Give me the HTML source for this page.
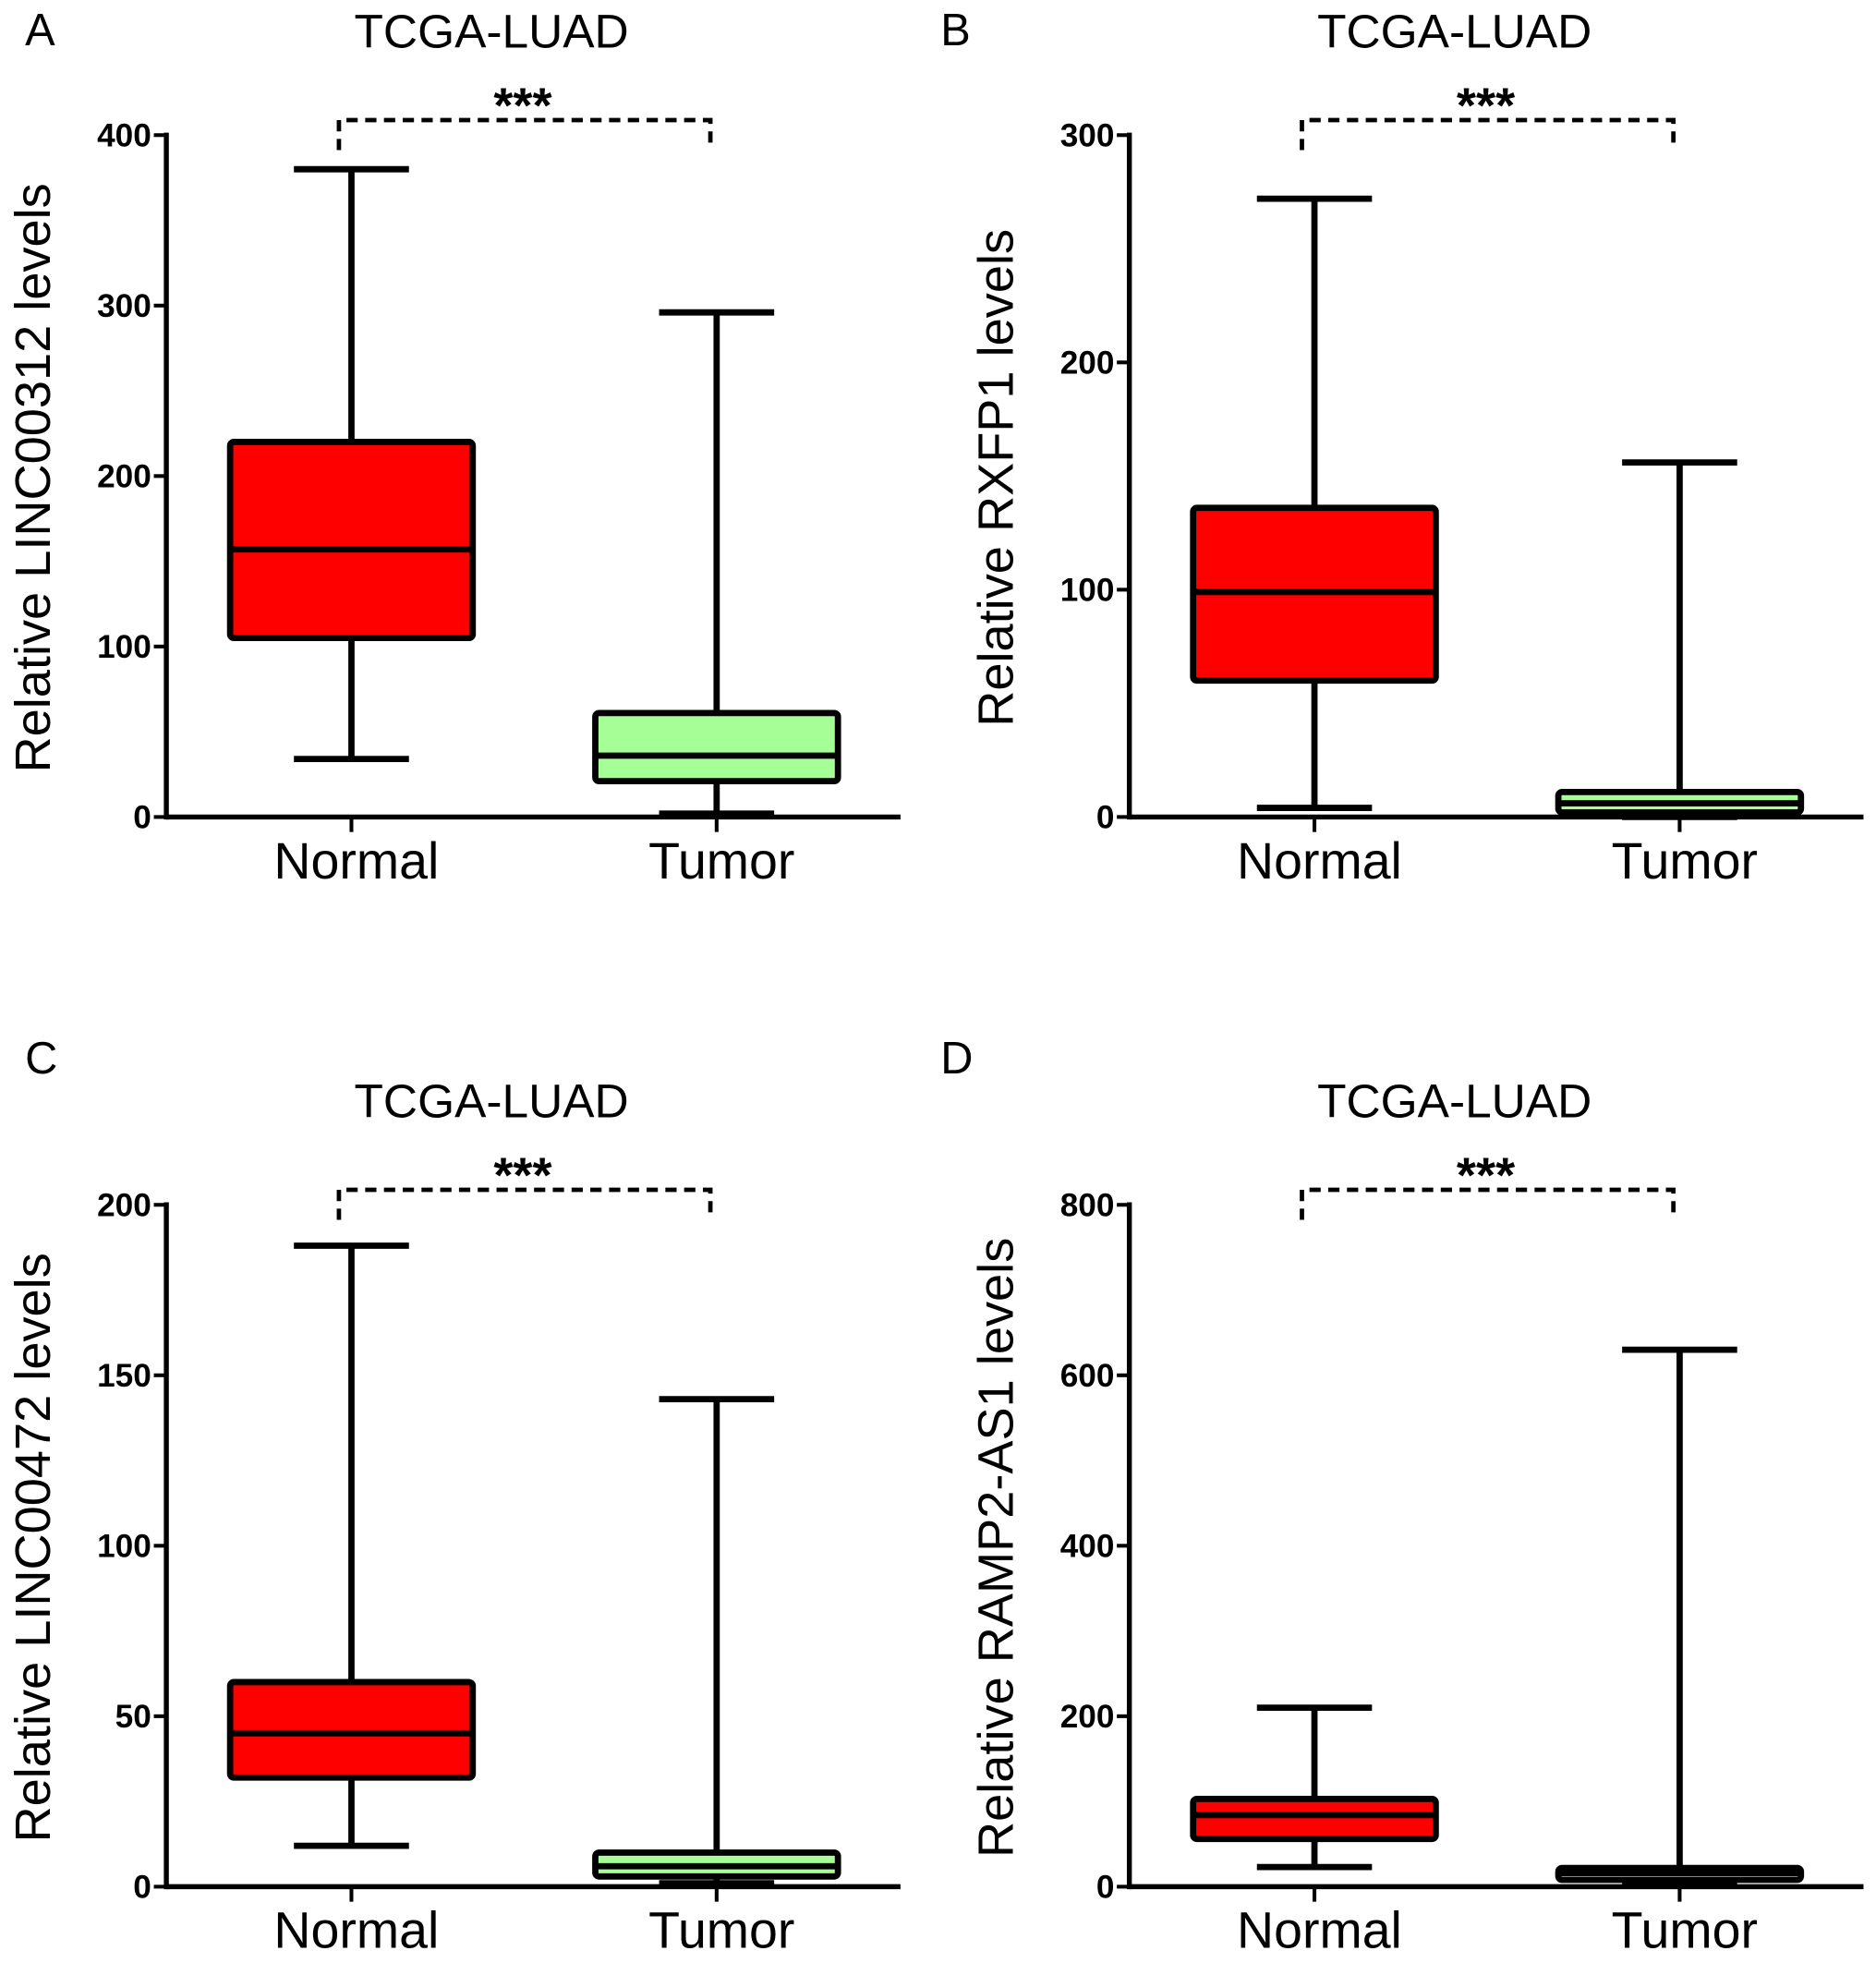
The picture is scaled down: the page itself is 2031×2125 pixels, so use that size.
<!DOCTYPE html>
<html><head><meta charset="utf-8"><style>
html,body{margin:0;padding:0;background:#fff;}
svg{display:block;}
text{font-family:"Liberation Sans",Arial,sans-serif;fill:#000;}
</style></head><body>
<svg id="fig" width="2031" height="2125" viewBox="0 0 1500 1569" preserveAspectRatio="none" xmlns="http://www.w3.org/2000/svg"></svg>
<script>
const categories = ["Normal","Tumor"];
const panelLetters = ["A","B","C","D"];
const yLabels = ["Relative LINC00312 levels","Relative RXFP1 levels","Relative LINC00472 levels","Relative RAMP2-AS1 levels"];
const yMax = [400,300,200,800];
const yTicksA = [0,100,200,300,400];
const yTicksB = [0,100,200,300];
const yTicksC = [0,50,100,150,200];
const yTicksD = [0,200,400,600,800];
// [min, q1, median, q3, max] per category
const normalA = [34,105,157,220,380];
const tumorA  = [2,21,36,61,296];
const normalB = [4,60,99,136,272];
const tumorB  = [0,2,6,11,156];
const normalC = [12,32,45,60,188];
const tumorC  = [1,3,6,10,143];
const normalD = [23,56,84,103,210];
const tumorD  = [2,8,16,22,630];

const svg = document.getElementById('fig');
const NS = 'http://www.w3.org/2000/svg';
function mk(tag, attrs, parent){const e=document.createElementNS(NS,tag);for(const k in attrs)e.setAttribute(k,attrs[k]);(parent||svg).appendChild(e);return e;}

const panels = [
 {ox:0, oy:0, lx:20, ly:36, ticks:yTicksA, data:[normalA,tumorA]},
 {ox:770, oy:0, lx:-18, ly:36, ticks:yTicksB, data:[normalB,tumorB]},
 {ox:0, oy:855, lx:20, ly:3, ticks:yTicksC, data:[normalC,tumorC]},
 {ox:770, oy:855, lx:-18, ly:3, ticks:yTicksD, data:[normalD,tumorD]}
];
const colors = ["#ff0000","#a6ff96"];

panels.forEach((p,i)=>{
  const g = mk('g',{transform:`translate(${p.ox},${p.oy})`});
  
  
  const x0=133, xEnd=720, yTop=108, yBot=653;
  const ys = v => yBot - (v/yMax[i])*(yBot-yTop);
  const xs = [281,573];
  let t = mk('text',{x:p.lx,y:p.ly,'font-size':36},g); t.textContent=panelLetters[i];
   
  t = mk('text',{x:393,y:38,'font-size':38,'text-anchor':'middle'},g); t.textContent='TCGA-LUAD';
   
  t = mk('text',{transform:`translate(40,382) rotate(-90)`,'font-size':40,'text-anchor':'middle'},g); t.textContent=yLabels[i];
   
  let a = mk('line',{x1:x0,y1:yTop-2,x2:x0,y2:yBot+2,stroke:'#000','stroke-width':4},g);
   
  a = mk('line',{x1:x0,y1:yBot,x2:xEnd,y2:yBot,stroke:'#000','stroke-width':4},g);
   
  p.ticks.forEach(v=>{
    const l=mk('line',{x1:x0-10,y1:ys(v),x2:x0,y2:ys(v),stroke:'#000','stroke-width':3},g);
     
    const tt=mk('text',{x:x0-12,y:ys(v)+9,'font-size':26,'font-weight':'bold','text-anchor':'end'},g); tt.textContent=v;
     
  });
  categories.forEach((c,j)=>{
    const x=xs[j];
    const l=mk('line',{x1:x,y1:yBot,x2:x,y2:yBot+12,stroke:'#000','stroke-width':3},g);
     
    const tt=mk('text',{x:x+4,y:702,'font-size':41,'text-anchor':'middle'},g); tt.textContent=c;
     
    const d=p.data[j];
    const w=mk('line',{x1:x,y1:ys(d[0]),x2:x,y2:ys(d[4]),stroke:'#000','stroke-width':5},g);
     
    [d[0],d[4]].forEach(v=>{
      const cap=mk('line',{x1:x-46,y1:ys(v),x2:x+46,y2:ys(v),stroke:'#000','stroke-width':5},g);
       
    });
    const b=mk('rect',{x:x-97,y:ys(d[3]),width:194,height:Math.max(ys(d[1])-ys(d[3]),1),fill:colors[j],stroke:'#000','stroke-width':5,rx:3},g);
     
    const m=mk('line',{x1:x-97,y1:ys(d[2]),x2:x+97,y2:ys(d[2]),stroke:'#000','stroke-width':5},g);
     
  });
  const br=mk('path',{d:'M271,120 L271,96 L568,96 L568,118',fill:'none',stroke:'#000','stroke-width':3.5,'stroke-dasharray':'9,6'},g);
   
  t=mk('text',{x:418,y:98,'font-size':40,'font-weight':'bold','text-anchor':'middle'},g); t.textContent='***';
   
});
</script>
</body></html>
